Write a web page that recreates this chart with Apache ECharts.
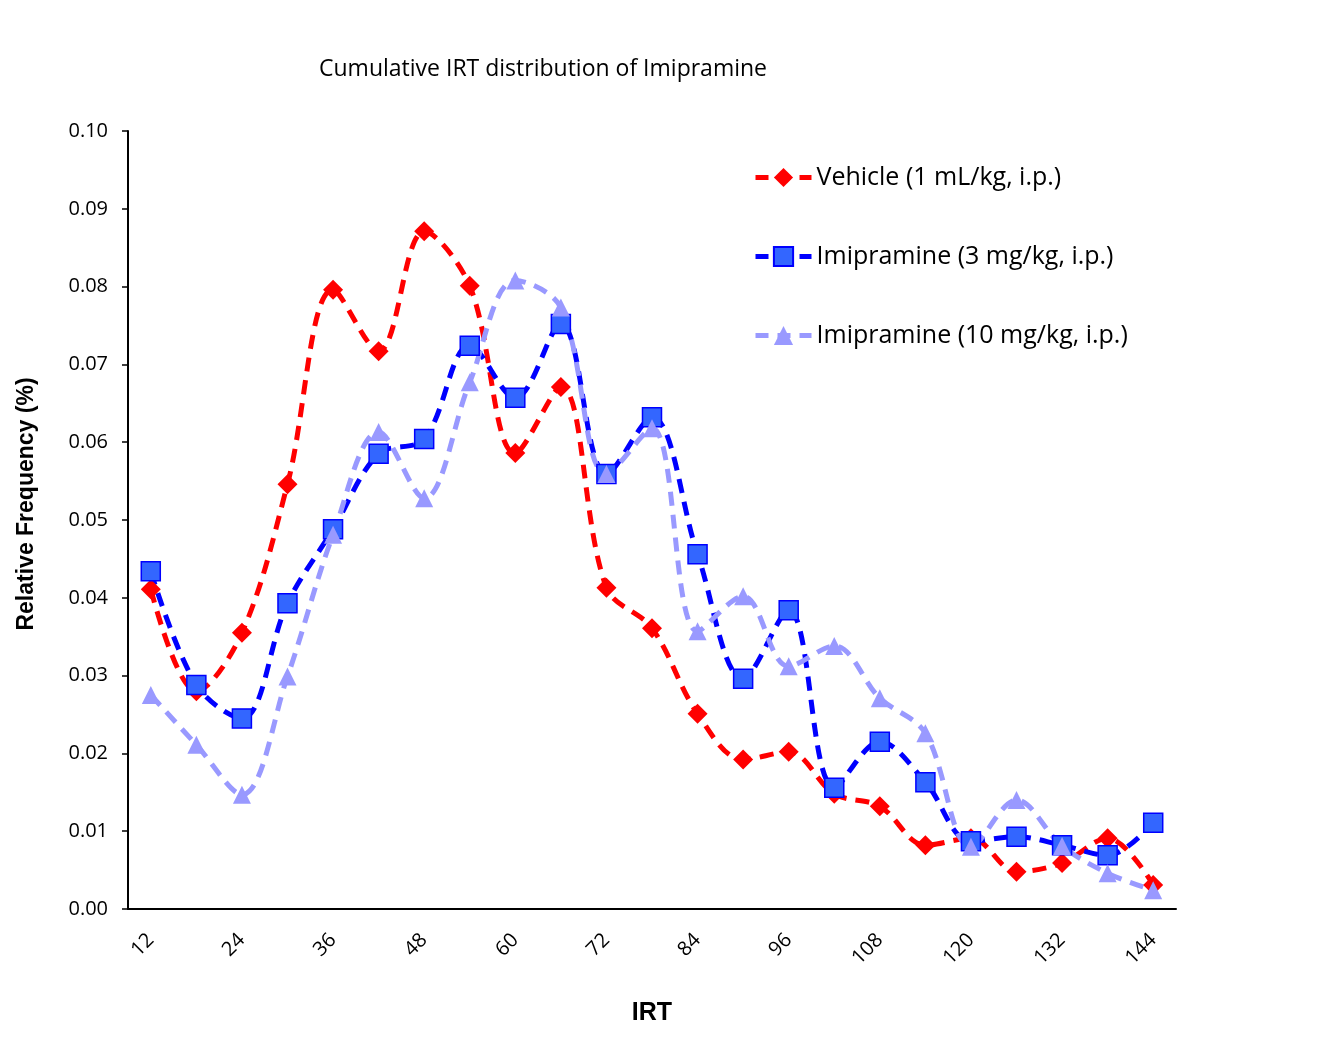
<!DOCTYPE html>
<html>
<head>
<meta charset="utf-8">
<script src="https://cdn.jsdelivr.net/npm/echarts@6/dist/echarts.min.js"></script>
<style>
  html, body { margin: 0; padding: 0; background: #fff; }
  #main { width: 1334px; height: 1045px; }
</style>
</head>
<body>
<div id="main"></div>
<script>
// IRT bins (x axis categories)
const irt = ['12','18','24','30','36','42','48','54','60','66','72','78',
             '84','90','96','102','108','114','120','126','132','138','144'];

const vehicle = [0.0411, 0.0280, 0.0355, 0.0546, 0.0796, 0.0717, 0.0871, 0.0801,
                 0.0586, 0.0671, 0.0413, 0.0361, 0.0251, 0.0192, 0.0202, 0.0148,
                 0.0132, 0.0082, 0.0091, 0.0048, 0.0059, 0.0091, 0.0031];

const imi3 = [0.0434, 0.0288, 0.0245, 0.0393, 0.0488, 0.0585, 0.0604, 0.0724,
              0.0657, 0.0752, 0.0559, 0.0632, 0.0456, 0.0296, 0.0384, 0.0156,
              0.0215, 0.0163, 0.0087, 0.0093, 0.0082, 0.0069, 0.0111];

const imi10 = [0.0275, 0.0211, 0.0147, 0.0299, 0.0481, 0.0613, 0.0528, 0.0677,
               0.0808, 0.0773, 0.0559, 0.0618, 0.0357, 0.0402, 0.0312, 0.0338,
               0.0271, 0.0226, 0.0080, 0.0140, 0.0081, 0.0046, 0.0024];

const names = ['Vehicle (1 mL/kg, i.p.)', 'Imipramine (3 mg/kg, i.p.)', 'Imipramine (10 mg/kg, i.p.)'];

const font = 'Open Sans';
const boldFont = 'Liberation Sans';
const chart = echarts.init(document.getElementById('main'));

function line(name, data, color, symbol, size, fill, border) {
  return {
    name: name,
    type: 'line',
    data: data,
    smooth: 0.35,
    symbol: symbol,
    symbolSize: size,
    showAllSymbol: true,
    lineStyle: { color: color, width: 5, type: [14, 9] },
    itemStyle: { color: fill, borderColor: border, borderWidth: border ? 1.5 : 0 }
  };
}

chart.setOption({
  animation: false,
  backgroundColor: '#ffffff',
  title: {
    text: 'Cumulative IRT distribution of Imipramine',
    left: 314,
    top: 53,
    textStyle: { fontFamily: font, fontSize: 23, fontWeight: 'normal', color: '#000' }
  },
  legend: {
    orient: 'vertical',
    left: 748,
    top: 160,
    itemGap: 54,
    itemWidth: 56,
    itemHeight: 24,
    data: names,
    lineStyle: { width: 5, type: [13, 9] },
    textStyle: { fontFamily: font, fontSize: 25, color: '#000' }
  },
  grid: { left: 128, right: 158, top: 131, bottom: 136 },
  xAxis: {
    type: 'category',
    data: irt,
    boundaryGap: true,
    name: 'IRT',
    nameLocation: 'middle',
    nameGap: 92,
    nameTextStyle: { fontFamily: boldFont, fontSize: 25, fontWeight: 'bold', color: '#000' },
    axisLine: { lineStyle: { color: '#000', width: 2 } },
    axisTick: { interval: 0, length: 6, lineStyle: { color: '#000', width: 1.5 } },
    axisLabel: { interval: 1, rotate: 45, margin: 28, fontFamily: font, fontSize: 20, color: '#000' },
    splitLine: { show: false }
  },
  yAxis: {
    type: 'value',
    min: 0,
    max: 0.1,
    interval: 0.01,
    name: 'Relative Frequency (%)',
    nameLocation: 'middle',
    nameGap: 90,
    nameRotate: 90,
    nameTextStyle: { fontFamily: boldFont, fontSize: 23, fontWeight: 'bold', color: '#000',
                     padding: [0, 0, 0, 32] },
    axisLine: { show: true, lineStyle: { color: '#000', width: 2 } },
    axisTick: { show: true, length: 6, lineStyle: { color: '#000', width: 1.5 } },
    axisLabel: { margin: 20, fontFamily: font, fontSize: 20, color: '#000',
                 formatter: v => v.toFixed(2) },
    splitLine: { show: false }
  },
  series: [
    line(names[0], vehicle, '#ff0000', 'diamond', 20, '#ff0000', null),
    line(names[1], imi3, '#0000ff', 'rect', 19, '#3366ff', '#0000ff'),
    line(names[2], imi10, '#9999ff', 'triangle', 18, '#9999ff', null)
  ]
});
</script>
</body>
</html>
